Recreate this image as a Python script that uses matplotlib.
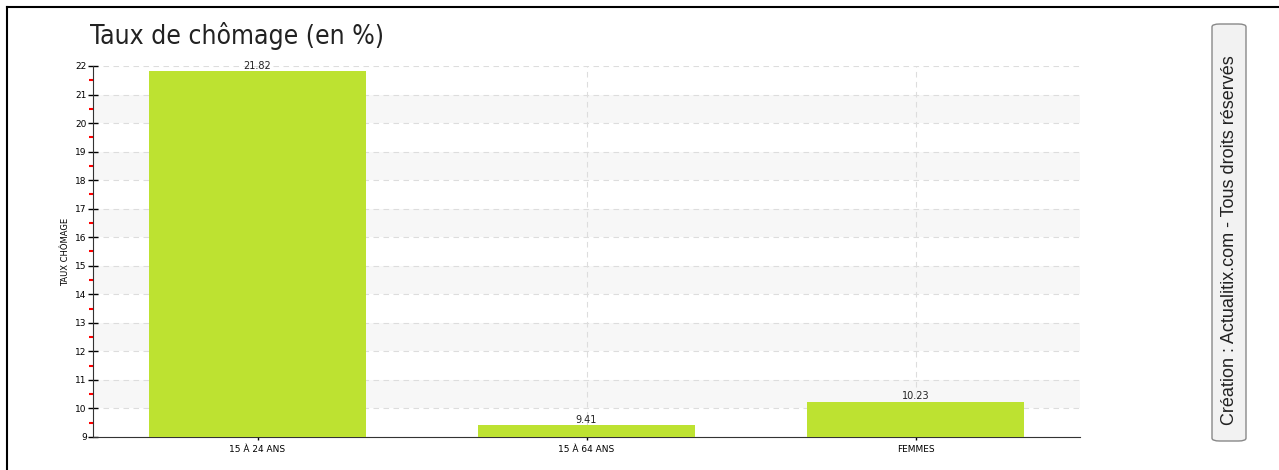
import matplotlib.pyplot as plt
import numpy as np
from matplotlib.patches import FancyBboxPatch

categories = ['15 À 24 ANS', '15 À 64 ANS', 'FEMMES']
values = [21.82, 9.41, 10.23]
bar_color = '#bde231'

W, H = 1279, 470
fig = plt.figure(figsize=(W / 100, H / 100), dpi=100)

# frame lines (top and left)
fig.add_artist(plt.Line2D([7 / W, 1], [1 - 7 / H, 1 - 7 / H], color='black', lw=1.5))
fig.add_artist(plt.Line2D([7 / W, 7 / W], [0, 1 - 7 / H], color='black', lw=1.5))

ax = fig.add_axes([93 / W, 1 - 437 / H, (1080 - 93) / W, (437 - 66) / H])
x = np.arange(len(categories))
ax.set_xlim(-0.5, len(categories) - 0.5)
ax.set_ylim(9, 22)

# alternating bands
for y0 in range(10, 22, 2):
    ax.axhspan(y0, y0 + 1, color='#f7f7f7', zorder=0, lw=0)

ax.bar(x, [v - 9 for v in values], bottom=9, width=0.66, color=bar_color, zorder=3)
for xi, v in zip(x, values):
    ax.text(xi, v + 0.02, f'{v:.2f}', ha='center', va='bottom', fontsize=7, color='#222222', zorder=4)

ax.set_yticks(np.arange(9, 23, 1))
ax.set_yticks(np.arange(9.5, 22, 1), minor=True)
ax.set_xticks(x)
ax.set_xticklabels(categories)
ax.tick_params(axis='y', which='major', direction='inout', length=7, width=1, labelsize=6.5, pad=1)
ax.tick_params(axis='y', which='minor', direction='out', length=3, width=1.5, color='red')
ax.tick_params(axis='x', which='major', direction='inout', length=5, width=1, labelsize=6.5, pad=3)
ax.grid(True, which='major', color='#dddddd', linestyle=(0, (5, 4)), lw=0.8, zorder=1)
for s in ['top', 'right']:
    ax.spines[s].set_visible(False)
ax.spines['left'].set_color('#333333')
ax.spines['bottom'].set_color('#333333')
ax.set_ylabel('TAUX CHÔMAGE', fontsize=6, labelpad=4)

fig.text(90 / W, 1 - 36 / H, 'Taux de chômage (en %)', fontsize=19, va='center', ha='left',
         fontstretch='condensed', color='#222222')

box = FancyBboxPatch((1212 / W, 1 - 441 / H), 34 / W, 417 / H,
                     boxstyle='round,pad=0,rounding_size=0.006', transform=fig.transFigure,
                     facecolor='#f2f2f2', edgecolor='#888888', lw=1)
fig.add_artist(box)
fig.text(1230 / W, 1 - 240 / H, 'Création : Actualitix.com - Tous droits réservés', rotation=90,
         fontsize=13, ha='center', va='center', color='#222222',
         family=['Liberation Sans', 'DejaVu Sans'])

fig.savefig('out.png', dpi=100)
